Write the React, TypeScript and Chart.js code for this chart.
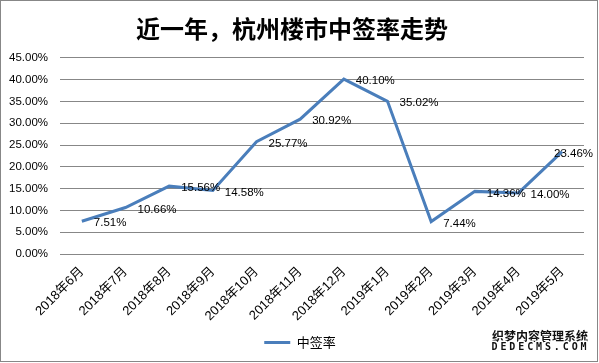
import React, { useEffect, useRef } from 'react';
import { Chart, registerables } from 'chart.js';

Chart.register(...registerables);

const titleText = '近一年，杭州楼市中签率走势';
const seriesName = '中签率';
const categories = [
  '2018年6月', '2018年7月', '2018年8月', '2018年9月', '2018年10月', '2018年11月',
  '2018年12月', '2019年1月', '2019年2月', '2019年3月', '2019年4月', '2019年5月',
];
const values = [7.51, 10.66, 15.56, 14.58, 25.77, 30.92, 40.10, 35.02, 7.44, 14.36, 14.00, 23.46];
const yMin = 0;
const yMax = 45;
const yStep = 5;
const watermarkLines = ['织梦内容管理系统', 'DEDECMS.COM'];

const LINE_COLOR = '#4A7EBB';
const GRID_COLOR = '#878787';
const LATIN = '"Liberation Sans", "Noto Sans CJK SC", sans-serif';
const CJK = '"Noto Sans CJK SC", sans-serif';

const fmtPct = (v: number) => v.toFixed(2) + '%';

const framePlugin = {
  id: 'frame',
  afterLayout(chart: any) {
    if (chart.legend) {
      chart.legend.left += 8;
      chart.legend.right += 8;
    }
  },
  beforeDraw(chart: any) {
    const { ctx, width, height } = chart;
    ctx.save();
    ctx.fillStyle = '#ffffff';
    ctx.fillRect(0, 0, width, height);
    ctx.restore();
  },
  afterDraw(chart: any) {
    const { ctx, width, height } = chart;
    ctx.save();
    ctx.strokeStyle = '#878787';
    ctx.lineWidth = 1;
    ctx.strokeRect(0.5, 0.5, width - 2, height - 2);
    // watermark
    ctx.textAlign = 'right';
    ctx.textBaseline = 'middle';
    ctx.font = 'bold 12px ' + CJK;
    ctx.lineJoin = 'round';
    ctx.strokeStyle = '#ffffff';
    ctx.lineWidth = 3;
    ctx.strokeText(watermarkLines[0], width - 11, height - 27);
    ctx.fillStyle = '#111111';
    ctx.fillText(watermarkLines[0], width - 11, height - 27);
    ctx.font = 'bold 10px "DejaVu Sans Mono", monospace';
    ctx.textAlign = 'center';
    const s = watermarkLines[1];
    const step = 8.9;
    const x0 = width - 11 - step * s.length + step / 2;
    for (let i = 0; i < s.length; i++) {
      ctx.strokeText(s[i], x0 + i * step, height - 15.5);
      ctx.fillText(s[i], x0 + i * step, height - 15.5);
    }
    ctx.restore();
  },
};

const dataLabelPlugin = {
  id: 'dataLabels',
  afterDatasetsDraw(chart: any) {
    const { ctx } = chart;
    const meta = chart.getDatasetMeta(0);
    ctx.save();
    ctx.font = '11.5px ' + LATIN;
    ctx.fillStyle = '#000000';
    ctx.textAlign = 'left';
    ctx.textBaseline = 'middle';
    meta.data.forEach((pt: any, i: number) => {
      const txt = fmtPct(values[i]);
      const w = ctx.measureText(txt).width;
      const x = Math.min(pt.x + 12, chart.width - 6 - w);
      ctx.fillText(txt, x, pt.y + 2);
    });
    ctx.restore();
  },
};

export default function App() {
  const ref = useRef<HTMLCanvasElement | null>(null);

  useEffect(() => {
    document.body.style.margin = '0';
    const canvas = ref.current;
    if (!canvas) return;
    const chart = new Chart(canvas, {
      type: 'line',
      data: {
        labels: categories,
        datasets: [
          {
            label: seriesName,
            data: values,
            borderColor: LINE_COLOR,
            backgroundColor: LINE_COLOR,
            borderWidth: 3,
            pointRadius: 0,
            pointHoverRadius: 0,
            tension: 0,
            fill: false,
          },
        ],
      },
      options: {
        responsive: false,
        animation: false,
        devicePixelRatio: 1,
        layout: { padding: { left: 0, right: 15, top: 2, bottom: 4 } },
        plugins: {
          title: {
            display: true,
            text: titleText,
            color: '#000000',
            font: { family: CJK, size: 24, weight: 'bold' },
            padding: { top: 12, bottom: 15 },
          },
          legend: {
            display: true,
            position: 'bottom',
            labels: {
              color: '#000000',
              font: { family: CJK, size: 13 },
              usePointStyle: true,
              pointStyle: 'line',
              pointStyleWidth: 26,
              boxWidth: 26,
              padding: 10,
            },
          },
          tooltip: { enabled: false },
        },
        scales: {
          x: {
            offset: true,
            grid: { display: false, drawTicks: false, offset: true },
            border: { display: false },
            ticks: {
              color: '#000000',
              font: { family: LATIN, size: 13 },
              maxRotation: 45,
              minRotation: 45,
              autoSkip: false,
              padding: 10,
            },
            afterFit(scale: any) {
              scale.height = 72;
            },
          },
          y: {
            min: yMin,
            max: yMax,
            grid: { color: GRID_COLOR, lineWidth: 1, drawTicks: false },
            border: { display: false },
            ticks: {
              stepSize: yStep,
              color: '#000000',
              font: { family: LATIN, size: 11.5 },
              padding: 12,
              callback: (v: any) => fmtPct(Number(v)),
            },
            afterFit(scale: any) {
              scale.width = 60;
            },
          },
        },
      },
      plugins: [framePlugin, dataLabelPlugin],
    });
    return () => chart.destroy();
  }, []);

  return (
    <div style={{ position: 'fixed', left: 0, top: 0, width: 599, height: 363 }}>
      <canvas ref={ref} width={599} height={363} style={{ display: 'block' }} />
    </div>
  );
}
